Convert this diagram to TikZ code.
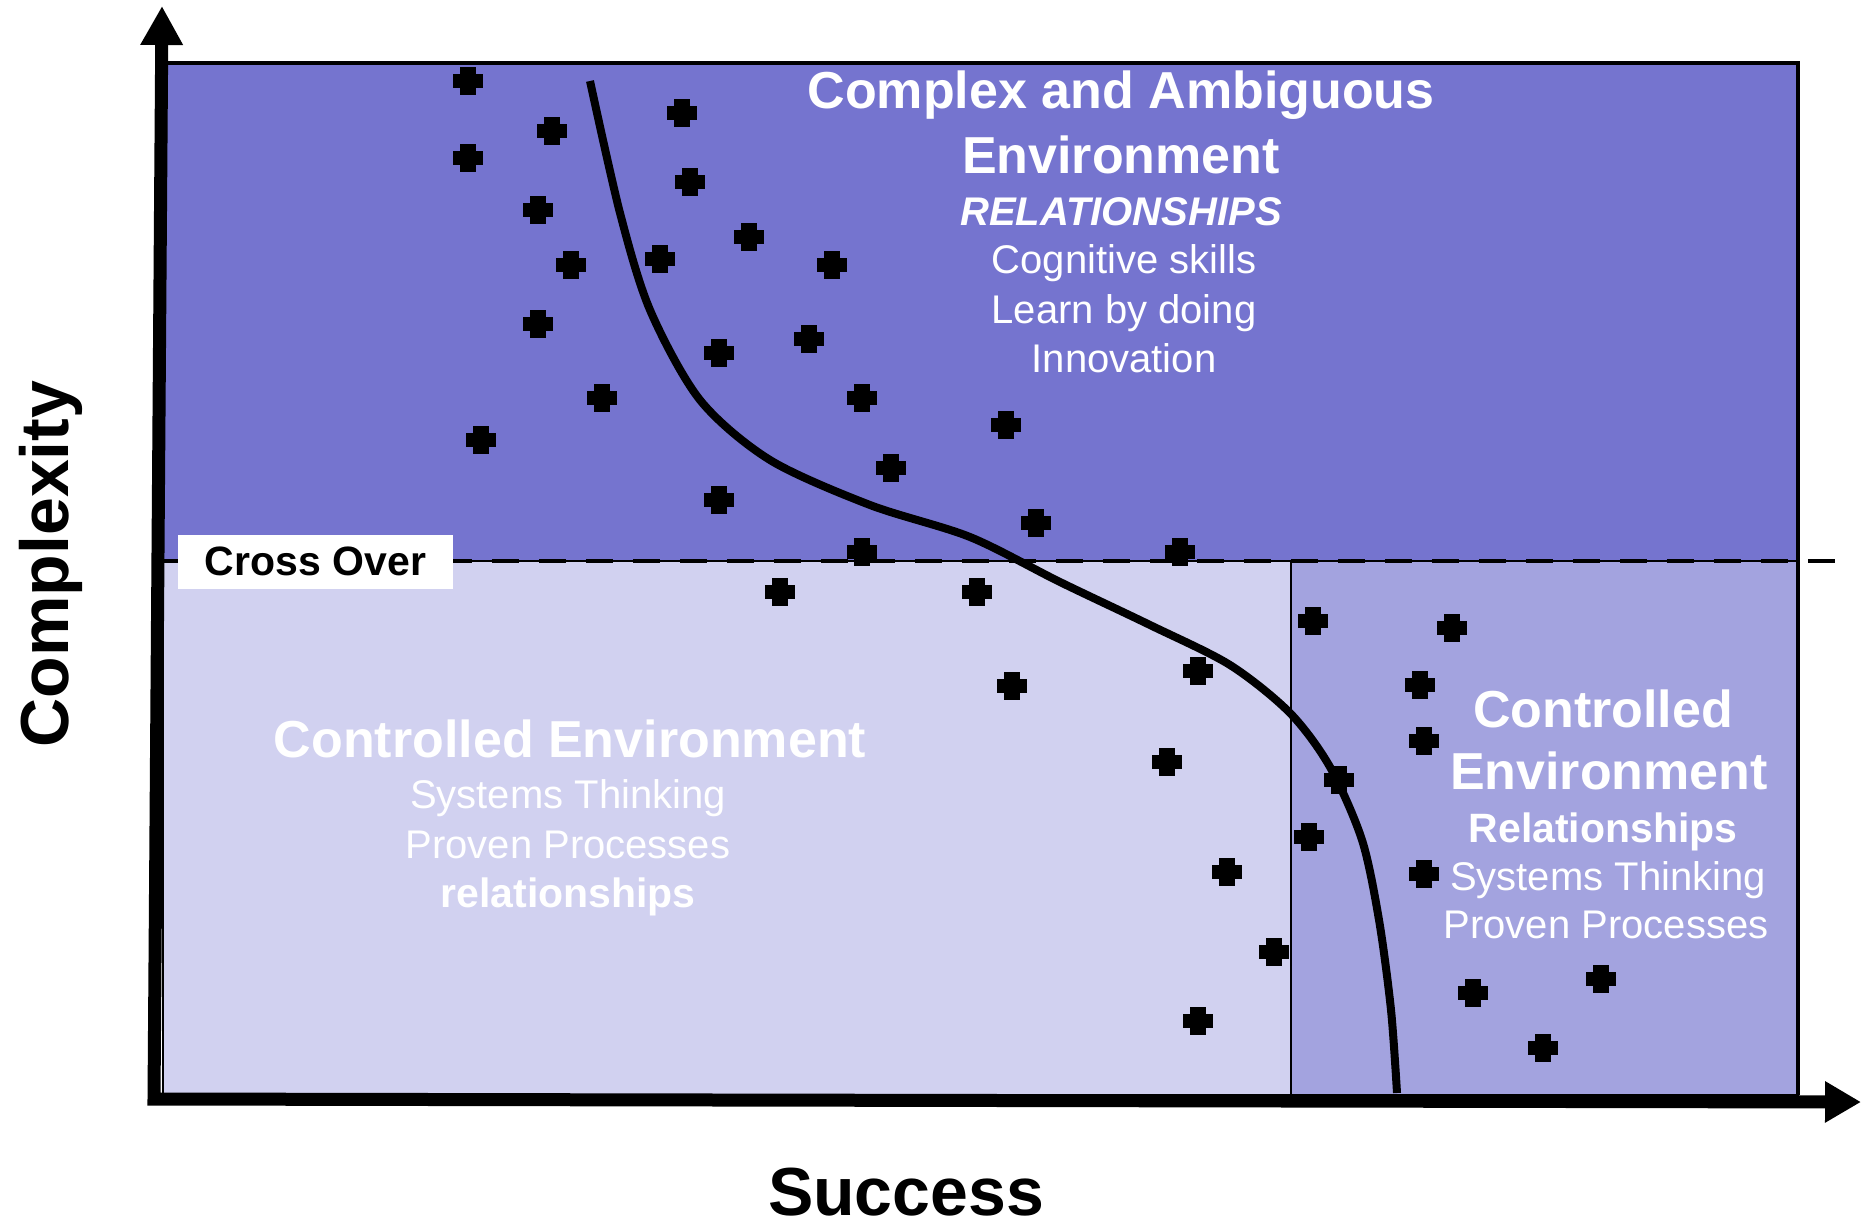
\documentclass[tikz,border=0pt]{standalone}
\usepackage{fontspec}
\setmainfont{Liberation Sans}
\usetikzlibrary{arrows.meta}
\definecolor{topc}{RGB}{117,116,207}
\definecolor{llc}{RGB}{209,209,240}
\definecolor{lrc}{RGB}{163,163,223}
\begin{document}
\begin{tikzpicture}[x=0.5pt,y=-0.5pt,
  wtitle/.style={text=white, font=\fontsize{26}{30}\selectfont\bfseries, anchor=base, inner sep=0pt},
  wtext/.style={text=white, font=\fontsize{20}{24}\selectfont, anchor=base, inner sep=0pt},
  wbold/.style={text=white, font=\fontsize{20.5}{24}\selectfont\bfseries, anchor=base, inner sep=0pt},
  wbi/.style={text=white, font=\fontsize{20}{24}\selectfont\bfseries\itshape, anchor=base, inner sep=0pt},
  axlabel/.style={font=\fontsize{34}{40}\selectfont\bfseries, anchor=base, inner sep=0pt},
  regionline/.style={draw=black, line width=0.6pt},
  axisline/.style={line width=6.5pt, line join=miter,
    {Triangle[length=19.5pt,width=20pt]}-{Triangle[length=18pt,width=19.5pt]}},
  curveline/.style={line width=4pt, line cap=butt},
  crossline/.style={line width=2pt, dash pattern=on 13.5pt off 10pt}
]
\useasboundingbox (0,0) rectangle (1861,1226);

% regions
\fill[topc] (163,63) rectangle (1798,561);
\filldraw[fill=llc, regionline] (163,561) rectangle (1291,1095);
\filldraw[fill=lrc, regionline] (1291,561) rectangle (1798,1095);
\draw[line width=2pt] (158,63) -- (1798,63) -- (1798,1095);

% cross over line and label
\draw[crossline] (163,561) -- (1850,561);
\node[fill=white, minimum width=137.5pt, minimum height=27pt, inner sep=0pt,
      font=\fontsize{20.5}{24}\selectfont\bfseries] (cross) at (315.5,561.5) {Cross Over};

% curve
\draw[curveline] plot[smooth, tension=0.5] coordinates {
  (590,81) (620,213) (650,310) (700,400) (770,460) (870,505) (970,537)
  (1060,582) (1150,625) (1230,665) (1290,713) (1330,767) (1362,840)
  (1379,920) (1391,1010) (1397,1093)};

% markers
\foreach \px/\py in {468/81, 552/131, 682/113, 468/158, 690/182, 538/210,
  749/237, 571/265, 660/259, 832/265, 538/324, 719/353, 809/339, 602/398,
  862/398, 481/440, 1006/425, 891/468, 719/500, 1036/523, 862/552, 1180/552,
  780/592, 977/592, 1313/621, 1452/628, 1012/686, 1198/671, 1420/685,
  1424/741, 1167/762, 1339/780, 1309/837, 1227/872, 1424/874, 1274/952,
  1601/979, 1473/993, 1198/1021, 1543/1048}{
  \fill (\px-15,\py-7) rectangle (\px+15,\py+7);
  \fill (\px-8,\py-14) rectangle (\px+8,\py+14);
}

% top texts
\node[wtitle] (a1) at (1121,108) {Complex and Ambiguous};
\node[wtitle] (a2) at (1121,173) {Environment};
\node[wbi] (a3) at (1121,225) {RELATIONSHIPS};
\node[wtext] (a4) at (1124,273) {Cognitive skills};
\node[wtext] (a5) at (1124,323) {Learn by doing};
\node[wtext] (a6) at (1124,372) {Innovation};

% lower left texts
\node[wtitle] (b1) at (570,757) {Controlled Environment};
\node[wtext] (b2) at (568,808) {Systems Thinking};
\node[wtext] (b3) at (568,858) {Proven Processes};
\node[wbold] (b4) at (568,907) {relationships};

% lower right texts
\node[wtitle] (c1) at (1603,727) {Controlled};
\node[wtitle] (c2) at (1609,789) {Environment};
\node[wbold] (c3) at (1603,842) {Relationships};
\node[wtext] (c4) at (1608,890) {Systems Thinking};
\node[wtext] (c5) at (1606,938) {Proven Processes};

% axes
\coordinate (ytip) at (162,6);
\coordinate (O) at (154,1099);
\coordinate (xtip) at (1861,1102);
\draw[axisline] (ytip) -- (O) -- (xtip);

\node[axlabel, rotate=90] (ylab) at (68,564) {Complexity};
\node[axlabel] (xlab) at (906,1215) {Success};
\end{tikzpicture}
\end{document}
